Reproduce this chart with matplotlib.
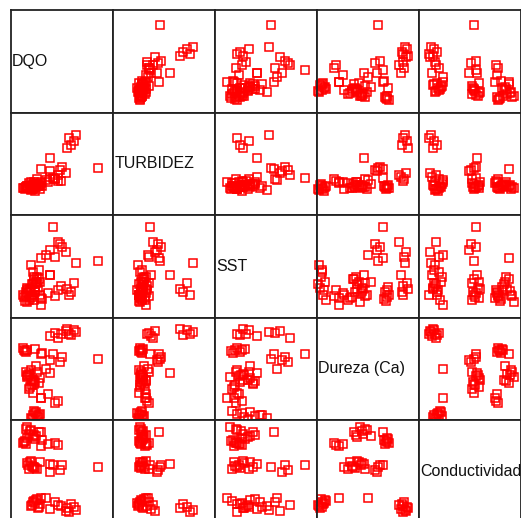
import numpy as np
import matplotlib.pyplot as plt

plt.rcParams['font.family'] = ['Liberation Sans', 'DejaVu Sans']

names = ["DQO", "TURBIDEZ", "SST", "Dureza (Ca)", "Conductividad"]

# valores relativos (escala 0-100 de cada variable), una columna por muestra
dqo = [65, 63, 60, 58, 56, 47, 44, 39, 55, 50,
       20, 22, 25, 27, 29, 23, 26, 21, 24, 28,
       30, 35,
       51, 49, 42, 39, 87,
       39, 29, 24, 21, 18, 16, 22, 20, 17, 23, 19, 26,
       13, 15, 24, 31, 30, 25, 20, 18, 16, 22, 28, 37, 30, 47, 44,
       14, 12, 16, 19, 23, 15]
turbidez = [80, 74, 70, 77, 67, 40, 36, 38, 42, 34,
            25, 27, 28, 30, 26, 29, 31, 26, 24, 29,
            33, 35,
            48, 45, 37, 44, 47,
            57, 30, 28, 27, 32, 29, 26, 33, 28, 31, 27, 36,
            27, 28, 30, 29, 46, 31, 26, 28, 27, 30, 29, 33, 32, 34, 36,
            26, 27, 29, 30, 33, 28]
sst = [54, 34, 25, 22, 28, 75, 60, 42, 65, 31,
       52, 45, 35, 29, 22, 17, 40, 33, 27, 47,
       12, 62,
       70, 73, 90, 67, 56,
       42, 35, 25, 20, 17, 29, 22, 28, 24, 38, 19, 34,
       20, 25, 30, 18, 59, 35, 22, 28, 15, 33, 38, 24, 19, 27, 21,
       16, 22, 27, 26, 40, 21]
dureza = [88, 90, 85, 86, 91, 82, 87, 84, 89, 86,
          2, 5, 8, 3, 6, 9, 4, 1, 7, 5,
          22, 51,
          63, 58, 66, 60, 61,
          47, 42, 38, 35, 31, 45, 27, 40, 44, 36, 33, 48,
          70, 68, 71, 67, 66, 54, 50, 46, 43, 40, 37, 26, 22, 19, 17,
          69, 72, 70, 45, 39, 48]
conductividad = [12, 15, 18, 10, 14, 17, 20, 13, 11, 16,
                 16, 20, 22, 14, 18, 21, 23, 17, 19, 15,
                 24, 24,
                 57, 52, 57, 50, 55,
                 58, 60, 54, 56, 53, 59, 55, 61, 57, 55, 60, 53,
                 80, 78, 83, 82, 90, 86, 92, 88, 95, 85, 90, 78, 76, 77, 79,
                 81, 79, 84, 91, 87, 93]

data = [dqo, turbidez, sst, dureza, conductividad]
n = len(names)

W, H = 521, 518
fig = plt.figure(figsize=(W / 100, H / 100), dpi=100)

left0, top0 = 11, 10
cw, ch = 102, 102.5

for i in range(n):
    for j in range(n):
        x0 = left0 + j * cw
        y0 = top0 + i * ch
        ax = fig.add_axes([x0 / W, 1 - (y0 + ch) / H, cw / W, ch / H])
        ax.set_xlim(0, 102)
        ax.set_ylim(0, 102)
        ax.set_xticks([])
        ax.set_yticks([])
        for s in ax.spines.values():
            s.set_color('#222222')
            s.set_linewidth(1.3)
        if i == j:
            ax.text(0.012, 0.5, names[i], transform=ax.transAxes,
                    ha='left', va='center', fontsize=11.5, color='#111111')
        else:
            ax.plot(data[j], data[i], 's', ms=5.2, mfc='none', mec='red',
                    mew=1.1, clip_on=False)

plt.savefig("out.png", dpi=100)
